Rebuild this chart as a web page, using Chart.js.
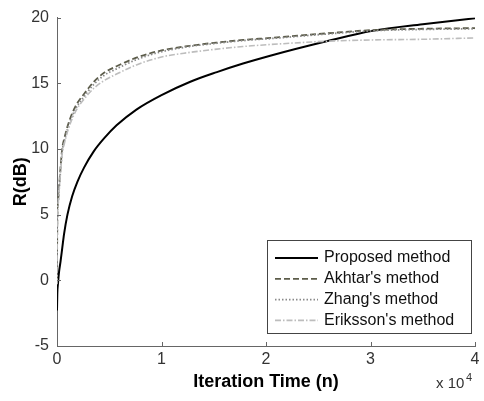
<!DOCTYPE html>
<html>
<head>
<meta charset="utf-8">
<script src="https://cdn.jsdelivr.net/npm/chart.js@4.4.1/dist/chart.umd.min.js"></script>
<style>
  html, body { margin: 0; padding: 0; background: #fff; }
  #wrap { width: 484px; height: 401px; }
</style>
</head>
<body>
<div id="wrap"><canvas id="myChart"></canvas></div>
<script>
// iteration counts (n) shared by all curves
const iterations = [0, 30, 100, 190, 350, 510, 670, 1000, 1450, 1950, 2600, 3500, 4500, 5700, 7600, 10000, 12700, 15300, 17800, 20400, 25800, 30200, 35000, 40000];
const proposed = [-2.3, -1.0, -0.2, 0.6, 1.5, 2.5, 3.5, 5.0, 6.4, 7.5, 8.6, 9.8, 10.8, 11.8, 13.0, 14.1, 15.1, 15.85, 16.5, 17.1, 18.2, 19.0, 19.5, 19.95];
const akhtar = [0, 4.7, 6.0, 7.0, 8.7, 10.1, 10.7, 11.7, 12.7, 13.5, 14.2, 15.1, 15.8, 16.3, 16.95, 17.5, 17.85, 18.1, 18.3, 18.45, 18.8, 19.05, 19.15, 19.2];
const zhang = [0, 4.5, 5.8, 6.8, 8.5, 9.9, 10.5, 11.5, 12.5, 13.3, 14.0, 14.9, 15.6, 16.1, 16.8, 17.4, 17.8, 18.05, 18.25, 18.4, 18.75, 19.0, 19.1, 19.15];
const eriksson = [-0.3, 4.4, 5.7, 6.7, 8.3, 9.7, 10.3, 11.3, 12.3, 13.1, 13.8, 14.6, 15.2, 15.7, 16.4, 17.0, 17.35, 17.6, 17.8, 17.95, 18.2, 18.3, 18.35, 18.45];
const methodNames = ["Proposed method", "Akhtar's method", "Zhang's method", "Eriksson's method"];
const xTicks = [0, 10000, 20000, 30000, 40000];
const yTicks = [-5, 0, 5, 10, 15, 20];

const FONT = "'Liberation Sans', Arial, sans-serif";

function pts(arr) {
  return iterations.map((n, i) => ({ x: n, y: arr[i] }));
}

// inward tick marks, boxed legend and the x10^4 exponent
const extras = {
  id: "extras",
  afterDraw(chart) {
    const ctx = chart.ctx;
    const xs = chart.scales.x, ys = chart.scales.y;
    const a = chart.chartArea;
    ctx.save();
    ctx.strokeStyle = "#666";
    ctx.lineWidth = 1;
    ctx.beginPath();
    xTicks.forEach(v => {
      const px = Math.round(xs.getPixelForValue(v)) + 0.5;
      ctx.moveTo(px, a.bottom);
      ctx.lineTo(px, a.bottom - 4);
    });
    yTicks.forEach(v => {
      const py = Math.round(ys.getPixelForValue(v)) + 0.5;
      ctx.moveTo(a.left, py);
      ctx.lineTo(a.left + 4, py);
    });
    ctx.stroke();

    // legend
    const bx = 267.5, by = 240.5, bw = 204, bh = 93;
    ctx.fillStyle = "#fff";
    ctx.fillRect(bx, by, bw, bh);
    ctx.strokeStyle = "#444";
    ctx.strokeRect(bx, by, bw, bh);
    ctx.font = "16px " + FONT;
    ctx.textBaseline = "middle";
    chart.data.datasets.forEach((ds, i) => {
      const yy = 258 + i * 20.8;
      ctx.strokeStyle = ds.borderColor;
      ctx.lineWidth = ds.borderWidth;
      ctx.setLineDash(ds.borderDash || []);
      ctx.beginPath();
      ctx.moveTo(275, yy);
      ctx.lineTo(318, yy);
      ctx.stroke();
      ctx.setLineDash([]);
      ctx.fillStyle = "#111";
      ctx.fillText(ds.label, 324, yy);
    });

    // axis exponent
    ctx.fillStyle = "#333";
    ctx.font = "15px " + FONT;
    ctx.textBaseline = "alphabetic";
    ctx.fillText("x 10", 436, 388);
    ctx.font = "11px " + FONT;
    ctx.fillText("4", 466, 381);
    ctx.restore();
  }
};

const colors = ["#000000", "#5c5c4a", "#8a8a8a", "#bdbdbd"];
const dashes = [[], [6, 3], [1.5, 2], [6, 2, 1.5, 2]];
const widths = [2, 1.8, 1.8, 1.6];
const series = [proposed, akhtar, zhang, eriksson];

new Chart(document.getElementById("myChart"), {
  type: "line",
  data: {
    datasets: series.map((s, i) => ({
      label: methodNames[i],
      data: pts(s),
      borderColor: colors[i],
      borderWidth: widths[i],
      borderDash: dashes[i],
      pointRadius: 0,
      fill: false,
      cubicInterpolationMode: "monotone",
      order: 4 - i
    }))
  },
  options: {
    responsive: true,
    maintainAspectRatio: false,
    animation: false,
    layout: { padding: { top: 13, right: 9, left: 0, bottom: 0 } },
    plugins: {
      legend: { display: false },
      tooltip: { enabled: false }
    },
    scales: {
      x: {
        type: "linear",
        min: 0,
        max: 40000,
        afterBuildTicks: s => { s.ticks = xTicks.map(v => ({ value: v })); },
        afterFit: s => { s.height = 55; },
        ticks: {
          callback: v => v / 10000,
          color: "#333",
          font: { family: FONT, size: 16 },
          padding: 4,
          maxRotation: 0
        },
        grid: { display: true, drawOnChartArea: false, drawTicks: false },
        border: { color: "#666", width: 1 },
        title: {
          display: true,
          text: "Iteration Time (n)",
          color: "#000",
          font: { family: FONT, size: 18, weight: "bold" },
          padding: { top: 2, bottom: 8 }
        }
      },
      y: {
        type: "linear",
        min: -5,
        max: 20,
        afterBuildTicks: s => { s.ticks = yTicks.map(v => ({ value: v })); },
        afterFit: s => { s.width = 57; },
        ticks: {
          color: "#333",
          font: { family: FONT, size: 16 },
          padding: 8
        },
        grid: { display: true, drawOnChartArea: false, drawTicks: false },
        border: { color: "#666", width: 1 },
        title: {
          display: true,
          text: "R(dB)",
          color: "#000",
          font: { family: FONT, size: 18, weight: "bold" },
          padding: { top: 10, bottom: 0 }
        }
      }
    }
  },
  plugins: [extras]
});
</script>
</body>
</html>
